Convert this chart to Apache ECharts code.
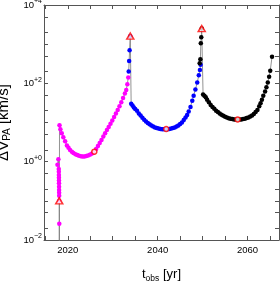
<!DOCTYPE html>
<html><head><meta charset="utf-8">
<script src="https://cdn.jsdelivr.net/npm/echarts@6/dist/echarts.min.js"></script>
<style>html,body{margin:0;padding:0;background:#fff}#c{width:280px;height:282px}</style>
</head><body><div id="c"></div>
<script>
// ---- data ----
const pinkYears = [2017.7, 2017.9, 2017.98, 2018.0, 2018.01, 2018.02, 2018.03, 2018.04, 2018.05, 2018.06, 2018.07, 2018.08, 2018.09, 2018.1, 2018.11,
  2018.15, 2018.35, 2018.65, 2019.0, 2019.4, 2019.8, 2020.15, 2020.5, 2020.9, 2021.25, 2021.7, 2022.1, 2022.5, 2022.9, 2023.3, 2023.7, 2024.1, 2024.5, 2024.9, 2025.3, 2025.7,
  2026.3, 2026.7, 2027.1, 2027.5, 2027.9, 2028.3, 2028.7, 2029.1, 2029.5, 2029.9, 2030.3, 2030.7, 2031.1, 2031.5, 2031.9, 2032.3, 2032.7, 2033.0, 2033.25, 2033.45];
const pinkVals = [0.83, 1.15, 0.65, 0.55, 0.46, 0.39, 0.33, 0.28, 0.23, 0.19, 0.16, 0.135, 0.1, 0.026, 0.001,
  8.5, 6.7, 5.3, 4.2, 3.3, 2.6, 2.25, 2.0, 1.8, 1.66, 1.55, 1.47, 1.41, 1.37, 1.35, 1.36, 1.39, 1.44, 1.51, 1.6, 1.72,
  2.1, 2.5, 3.0, 3.6, 4.4, 5.3, 6.4, 7.7, 9.3, 11.3, 13.8, 17, 21, 26, 33, 42, 55, 68, 95, 140];

const blueYears = [2033.55, 2033.65, 2033.75, 2033.9, 2034.1, 2034.4, 2034.7, 2035.0, 2035.4, 2035.8, 2036.2, 2036.6, 2037.0, 2037.4, 2037.8, 2038.2, 2038.6, 2039.0, 2039.4, 2039.8, 2040.2, 2040.6, 2041.0, 2041.4, 2041.8, 2042.2, 2042.6, 2043.0, 2043.4, 2043.8, 2044.2, 2044.6, 2045.0, 2045.4, 2045.8, 2046.2, 2046.55, 2046.9, 2047.3, 2047.7, 2048.0, 2048.4, 2048.8, 2049.15, 2049.4, 2049.55];
const blueVals = [200, 370, 700, 1600, 30, 27, 24, 22, 20, 17, 15, 13.2, 11.8, 10.6, 9.7, 9.0, 8.4, 7.9, 7.5, 7.2, 7.0, 6.85, 6.75, 6.7, 6.7, 6.75, 6.85, 7.0, 7.2, 7.5, 7.9, 8.4, 9.1, 10, 11.5, 13.5, 15.6, 19, 25, 36, 48, 70, 105, 160, 220, 300];

const blackYears = [2049.35, 2049.5, 2049.6, 2049.7, 2049.8, 2050.1, 2050.4, 2050.7, 2051.0, 2051.4, 2051.8, 2052.2, 2052.6, 2053.0, 2053.4, 2053.8, 2054.2, 2054.6, 2055.0, 2055.4, 2055.8, 2056.2, 2056.6, 2057.0, 2057.4, 2057.8, 2058.2, 2058.6, 2059.0, 2059.4, 2059.8, 2060.2, 2060.6, 2061.0, 2061.4, 2061.8, 2062.2, 2062.6, 2062.9, 2063.2, 2063.5, 2063.9, 2064.2, 2064.5, 2064.8, 2065.05, 2065.45];
const blackVals = [325, 410, 1050, 1500, 2500, 52, 48, 44, 38, 33, 28, 25, 22.5, 20, 18.5, 17, 15.8, 14.8, 14, 13.4, 12.9, 12.5, 12.2, 12.0, 11.9, 11.9, 11.9, 12.0, 12.2, 12.5, 13.0, 13.5, 14.3, 15.2, 16.5, 18.5, 21, 26, 31, 38, 48, 62, 80, 105, 148, 210, 480];

const periYears = [2018.09, 2033.9, 2049.8];
const periVals = [0.1, 1600, 2500];
const apoYears = [2025.9, 2041.9, 2057.8];
const apoVals = [1.8, 6.8, 12];

const xTickVals = [2015, 2020, 2025, 2030, 2035, 2040, 2045, 2050, 2055, 2060, 2065];
const xLabelVals = [2020, 2040, 2060];
const yTickVals = [0.01, 0.02, 0.05, 0.1, 0.2, 0.5, 1, 2, 5, 10, 20, 50, 100, 200, 500, 1000, 2000, 5000, 10000];
const yLabelVals = [0.01, 1, 100, 10000];
const yLabelExp = ['\u22122', '+0', '+2', '+4'];

// ---- chart ----
const pair = (xs, ys) => xs.map((x, i) => [x, ys[i]]);
const FONT = 'Liberation Sans';
const AX = '#555';
const chart = echarts.init(document.getElementById('c'), null, {renderer: 'canvas'});

function xAxisBase(pos, show) {
  return {
    type: 'value', min: 2014.7, max: 2067, position: pos,
    axisLine: {show: true, onZero: false, lineStyle: {color: AX, width: 1}},
    axisTick: {show: true, inside: true, length: 4, customValues: xTickVals, lineStyle: {color: AX}},
    axisLabel: {show: show, customValues: xLabelVals, fontSize: 9.5, color: '#000', fontFamily: FONT, margin: 5,
      formatter: v => String(Math.round(v))},
    splitLine: {show: false}
  };
}
function yAxisBase(pos, show) {
  return {
    type: 'log', logBase: 10, min: 0.01, max: 10000, position: pos,
    axisLine: {show: true, onZero: false, lineStyle: {color: AX, width: 1}},
    axisTick: {show: true, inside: true, length: 4, customValues: yTickVals, lineStyle: {color: AX}},
    axisLabel: {
      show: show, customValues: yLabelVals, margin: 2, fontFamily: FONT,
      formatter: function (v) {
        let k = 0;
        yLabelVals.forEach((l, i) => { if (Math.abs(Math.log10(l) - Math.log10(v)) < 1e-6) k = i; });
        return '{b|10}{s|' + yLabelExp[k] + '}';
      },
      rich: {
        b: {fontSize: 9.5, color: '#000', fontFamily: FONT, lineHeight: 14, verticalAlign: 'middle'},
        s: {fontSize: 7, color: '#000', fontFamily: FONT, lineHeight: 14, verticalAlign: 'top'}
      }
    },
    splitLine: {show: false}
  };
}

const xb = xAxisBase('bottom', true);
xb.name = '{a|t}{sub|obs}{a| [yr]}';
xb.nameLocation = 'middle';
xb.nameGap = 26;
xb.nameTextStyle = {fontFamily: FONT, color: '#000', rich: {
  a: {fontSize: 13, fontFamily: FONT, color: '#000', lineHeight: 17},
  sub: {fontSize: 8.5, fontFamily: FONT, color: '#000', lineHeight: 17, verticalAlign: 'bottom'}
}};
const yl = yAxisBase('left', true);
yl.name = '{a|\u0394V}{sub|PA}{a| [km/s]}';
yl.nameLocation = 'middle';
yl.nameRotate = 90;
yl.nameGap = 27;
yl.nameTextStyle = {fontFamily: FONT, color: '#000', rich: {
  a: {fontSize: 15, fontFamily: FONT, color: '#000', lineHeight: 18},
  sub: {fontSize: 10, fontFamily: FONT, color: '#000', lineHeight: 18, verticalAlign: 'bottom'}
}};

function lineSeries(xs, ys, color) {
  return {
    type: 'line', data: pair(xs, ys), xAxisIndex: 0, yAxisIndex: 0,
    symbol: 'circle', symbolSize: 4.5, showSymbol: true, showAllSymbol: true,
    itemStyle: {color: color, borderWidth: 0},
    lineStyle: {color: '#777', width: 0.8},
    emphasis: {disabled: true}, clip: true
  };
}

chart.setOption({
  animation: false,
  backgroundColor: '#fff',
  grid: {left: 44, top: 5, right: 1, bottom: 42, containLabel: false, outerBoundsMode: 'none'},
  xAxis: [xb, xAxisBase('top', false)],
  yAxis: [yl, yAxisBase('right', false)],
  series: [
    lineSeries(pinkYears, pinkVals, '#ff00ff'),
    lineSeries(blueYears, blueVals, '#0000ff'),
    lineSeries(blackYears, blackVals, '#000000'),
    {type: 'scatter', data: pair(apoYears, apoVals), symbol: 'circle', symbolSize: 5,
     itemStyle: {color: '#fff', borderColor: '#ff0000', borderWidth: 1.5}, z: 5, emphasis: {disabled: true}},
    {type: 'scatter', data: pair(periYears, periVals), symbol: 'triangle', symbolSize: [7, 6],
     itemStyle: {color: '#fff', borderColor: '#ff0000', borderWidth: 1.5}, z: 5, emphasis: {disabled: true}}
  ]
});
</script></body></html>
